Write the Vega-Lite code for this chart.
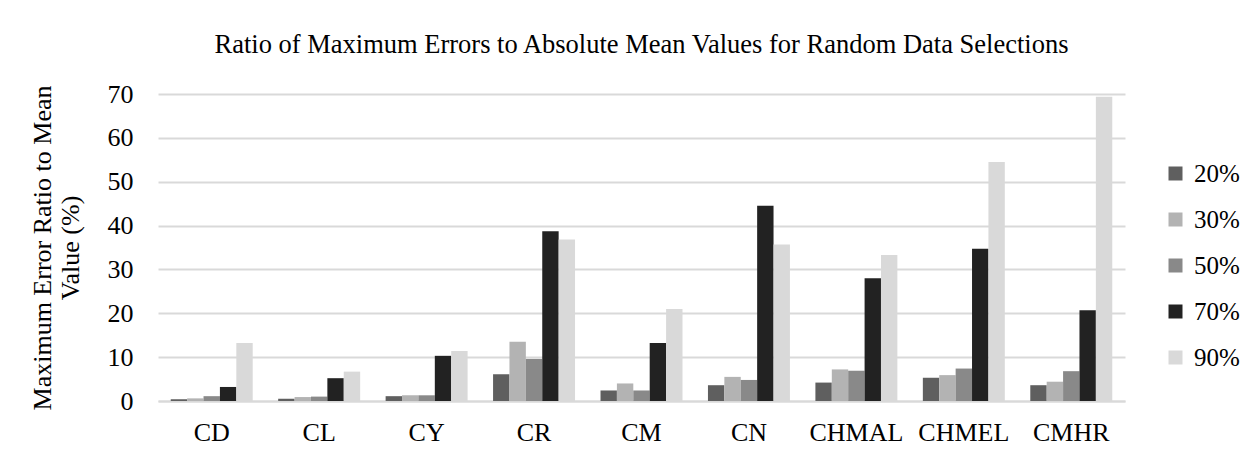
{
  "$schema": "https://vega.github.io/schema/vega-lite/v6.json",
  "autosize": "none",
  "width": 967,
  "height": 307,
  "padding": {"left": 158, "top": 94, "right": 134, "bottom": 56},
  "background": "white",
  "title": {
    "text": "Ratio of Maximum Errors to Absolute Mean Values for Random Data Selections",
    "font": "Liberation Serif",
    "fontSize": 26.5,
    "fontWeight": "normal",
    "color": "#000000",
    "anchor": "middle",
    "offset": 23
  },
  "data": {
    "values": [
      {"cat": "CD", "pct": "20%", "value": 0.4},
      {"cat": "CD", "pct": "30%", "value": 0.6},
      {"cat": "CD", "pct": "50%", "value": 1.1},
      {"cat": "CD", "pct": "70%", "value": 3.2},
      {"cat": "CD", "pct": "90%", "value": 13.2},
      {"cat": "CL", "pct": "20%", "value": 0.5},
      {"cat": "CL", "pct": "30%", "value": 0.9},
      {"cat": "CL", "pct": "50%", "value": 1.0},
      {"cat": "CL", "pct": "70%", "value": 5.2},
      {"cat": "CL", "pct": "90%", "value": 6.7},
      {"cat": "CY", "pct": "20%", "value": 1.1},
      {"cat": "CY", "pct": "30%", "value": 1.3},
      {"cat": "CY", "pct": "50%", "value": 1.3},
      {"cat": "CY", "pct": "70%", "value": 10.3},
      {"cat": "CY", "pct": "90%", "value": 11.4},
      {"cat": "CR", "pct": "20%", "value": 6.1},
      {"cat": "CR", "pct": "30%", "value": 13.5},
      {"cat": "CR", "pct": "50%", "value": 9.6},
      {"cat": "CR", "pct": "70%", "value": 38.7},
      {"cat": "CR", "pct": "90%", "value": 36.8},
      {"cat": "CM", "pct": "20%", "value": 2.4},
      {"cat": "CM", "pct": "30%", "value": 4.0},
      {"cat": "CM", "pct": "50%", "value": 2.4},
      {"cat": "CM", "pct": "70%", "value": 13.2},
      {"cat": "CM", "pct": "90%", "value": 21.0},
      {"cat": "CN", "pct": "20%", "value": 3.6},
      {"cat": "CN", "pct": "30%", "value": 5.5},
      {"cat": "CN", "pct": "50%", "value": 4.8},
      {"cat": "CN", "pct": "70%", "value": 44.5},
      {"cat": "CN", "pct": "90%", "value": 35.7},
      {"cat": "CHMAL", "pct": "20%", "value": 4.2},
      {"cat": "CHMAL", "pct": "30%", "value": 7.2},
      {"cat": "CHMAL", "pct": "50%", "value": 6.9},
      {"cat": "CHMAL", "pct": "70%", "value": 28.0},
      {"cat": "CHMAL", "pct": "90%", "value": 33.3},
      {"cat": "CHMEL", "pct": "20%", "value": 5.3},
      {"cat": "CHMEL", "pct": "30%", "value": 5.9},
      {"cat": "CHMEL", "pct": "50%", "value": 7.4},
      {"cat": "CHMEL", "pct": "70%", "value": 34.7},
      {"cat": "CHMEL", "pct": "90%", "value": 54.5},
      {"cat": "CMHR", "pct": "20%", "value": 3.6},
      {"cat": "CMHR", "pct": "30%", "value": 4.4},
      {"cat": "CMHR", "pct": "50%", "value": 6.8},
      {"cat": "CMHR", "pct": "70%", "value": 20.7},
      {"cat": "CMHR", "pct": "90%", "value": 69.4}
    ]
  },
  "mark": {"type": "bar"},
  "encoding": {
    "x": {
      "field": "cat",
      "type": "nominal",
      "sort": ["CD", "CL", "CY", "CR", "CM", "CN", "CHMAL", "CHMEL", "CMHR"],
      "scale": {"paddingInner": 0.237, "paddingOuter": 0.1185},
      "axis": {
        "title": null,
        "labelAngle": 0,
        "labelFont": "Liberation Serif",
        "labelFontSize": 26,
        "labelColor": "#000000",
        "labelPadding": 18,
        "ticks": false,
        "domainColor": "#d9d9d9",
        "domainWidth": 2,
        "grid": false
      }
    },
    "xOffset": {
      "field": "pct",
      "type": "nominal",
      "sort": ["20%", "30%", "50%", "70%", "90%"],
      "scale": {"paddingInner": 0, "paddingOuter": 0}
    },
    "y": {
      "field": "value",
      "type": "quantitative",
      "scale": {"domain": [0, 70], "nice": false},
      "axis": {
        "title": ["Maximum Error Ratio to Mean", "Value (%)"],
        "titleFont": "Liberation Serif",
        "titleFontSize": 26,
        "titleFontWeight": "normal",
        "titleColor": "#000000",
        "titlePadding": 24,
        "titleLineHeight": 28,
        "values": [0, 10, 20, 30, 40, 50, 60, 70],
        "labelFont": "Liberation Serif",
        "labelFontSize": 26,
        "labelColor": "#000000",
        "labelPadding": 25,
        "ticks": false,
        "domain": false,
        "gridColor": "#d9d9d9",
        "gridWidth": 2
      }
    },
    "color": {
      "field": "pct",
      "type": "nominal",
      "sort": ["20%", "30%", "50%", "70%", "90%"],
      "scale": {
        "domain": ["20%", "30%", "50%", "70%", "90%"],
        "range": ["#5f5f5f", "#b3b3b3", "#898989", "#222222", "#d9d9d9"]
      },
      "legend": {
        "title": null,
        "orient": "none",
        "legendX": 1005,
        "legendY": 67,
        "padding": 0,
        "symbolType": "square",
        "symbolSize": 196,
        "symbolStrokeWidth": 0,
        "labelFont": "Liberation Serif",
        "labelFontSize": 25,
        "labelColor": "#000000",
        "labelOffset": 6,
        "rowPadding": 20
      }
    }
  },
  "config": {
    "view": {"stroke": null}
  }
}
